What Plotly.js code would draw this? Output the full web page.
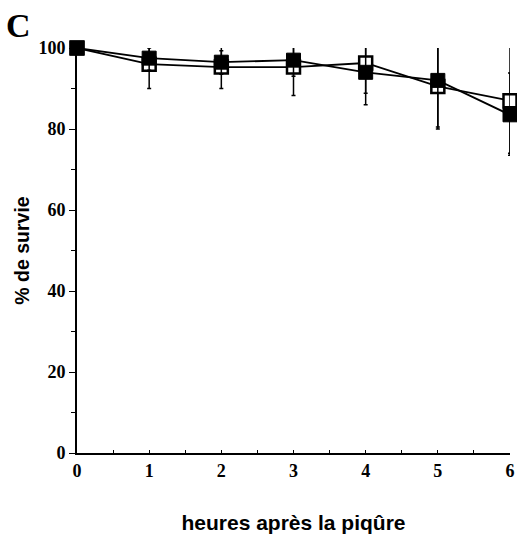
<!DOCTYPE html>
<html>
<head>
<meta charset="utf-8">
<script src="https://cdn.plot.ly/plotly-3.0.1.min.js"></script>
<style>html,body{margin:0;padding:0;background:#fff;}#chart{width:517px;height:540px;}</style>
</head>
<body>
<div id="chart"></div>
<script>
const hours = [0, 1, 2, 3, 4, 5, 6];
const survieOpen = [100, 96, 95.3, 95.3, 96.3, 90.5, 87];
const openErrPlus = [0, 4, 4, 5, 4, 9.8, 6.8];
const openErrMinus = [0, 6, 5.3, 7, 7.5, 10, 13];
const survieFilled = [100, 97.5, 96.5, 97, 94, 92, 83.5];
const filledErrPlus = [0, 3, 3.8, 3.3, 6.3, 8.3, 16.8];
const filledErrMinus = [0, 3, 3, 4, 8, 12, 10];
const yTicks = [0, 20, 40, 60, 80, 100];
const xTicks = [0, 1, 2, 3, 4, 5, 6];

const traces = [
  {
    x: hours, y: survieOpen, type: 'scatter', mode: 'lines+markers',
    line: {color: '#000', width: 1.8},
    marker: {symbol: 'square', size: 13, color: '#fff', line: {color: '#000', width: 2.5}},
    error_y: {type: 'data', symmetric: false, array: openErrPlus, arrayminus: openErrMinus,
              color: '#000', thickness: 1.5, width: 2},
    cliponaxis: false, showlegend: false
  },
  {
    x: hours, y: survieFilled, type: 'scatter', mode: 'lines+markers',
    line: {color: '#000', width: 1.8},
    marker: {symbol: 'square', size: 14, color: '#000', line: {color: '#000', width: 1}},
    error_y: {type: 'data', symmetric: false, array: filledErrPlus, arrayminus: filledErrMinus,
              color: '#000', thickness: 1.5, width: 2},
    cliponaxis: false, showlegend: false
  }
];

const layout = {
  width: 517, height: 540,
  margin: {l: 77, r: 7, t: 48, b: 87},
  paper_bgcolor: '#fff', plot_bgcolor: '#fff',
  font: {family: 'Liberation Serif, serif', color: '#000', size: 16},
  xaxis: {
    range: [0, 6], tickmode: 'array', tickvals: xTicks, ticktext: xTicks.map(v => '<b>' + v + '</b>'),
    showgrid: false, zeroline: false, showline: true, linecolor: '#000', linewidth: 2,
    ticks: 'inside', ticklen: 3, tickcolor: '#000',
    minor: {dtick: 0.5, ticks: 'inside', ticklen: 3, tickcolor: '#000'},
    tickfont: {family: 'Liberation Serif, serif', size: 18, color: '#000'},
    title: {text: '<b>heures après la piqûre</b>', font: {family: 'Liberation Sans, Arial, sans-serif', size: 21, color: '#000'}, standoff: 36}
  },
  yaxis: {
    range: [0, 100], tickmode: 'array', tickvals: yTicks, ticktext: yTicks.map(v => '<b>' + v + '</b>'),
    showgrid: false, zeroline: false, showline: true, linecolor: '#000', linewidth: 2,
    ticks: 'outside', ticklen: 6, tickcolor: '#000',
    minor: {dtick: 10, ticks: 'outside', ticklen: 4, tickcolor: '#000'},
    tickfont: {family: 'Liberation Serif, serif', size: 18, color: '#000'},
    title: {text: '<b>% de survie</b>', font: {family: 'Liberation Sans, Arial, sans-serif', size: 19.5, color: '#000'}, standoff: 4}
  },
  annotations: [{
    text: '<b>C</b>', xref: 'paper', yref: 'paper', x: -0.168, y: 1.105,
    xanchor: 'left', yanchor: 'top', showarrow: false,
    font: {family: 'Liberation Serif, serif', size: 34, color: '#000'}
  }]
};

Plotly.newPlot('chart', traces, layout, {displayModeBar: false});
</script>
</body>
</html>
